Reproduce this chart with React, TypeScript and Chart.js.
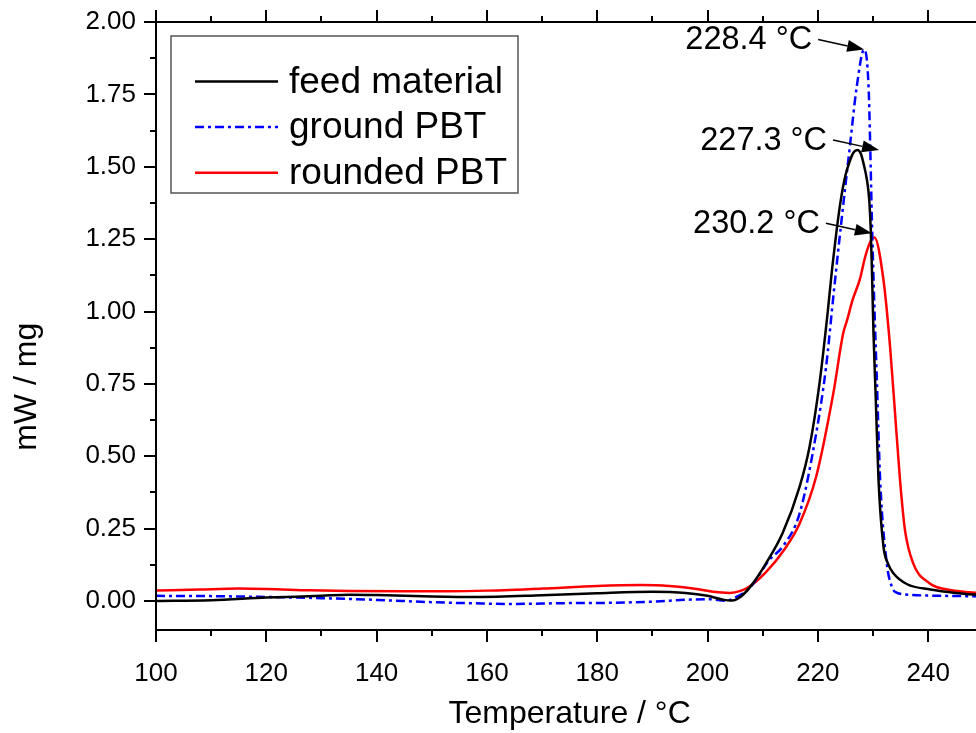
import React, { useEffect, useRef } from 'react';
import { Chart, registerables } from 'chart.js';

Chart.register(...registerables);

const FONT = '"Liberation Sans", Arial, Helvetica, sans-serif';

// ---- data (°C, mW/mg) ----
const feedT = [100, 110, 120, 130, 135, 140, 150, 158, 170, 180, 190, 196, 200, 203, 204.5, 206, 208, 210.6, 213.6, 216.7, 218.5, 220.3, 221.8, 222.6, 223.4, 224.2, 225.0, 225.8, 226.5, 227.2, 227.8, 228.3, 228.9, 229.3, 229.6, 229.85, 230.1, 230.5, 231.0, 231.9, 232.7, 233.7, 236.2, 240.4, 245, 250];
const feedV = [0.0, 0.003, 0.012, 0.018, 0.022, 0.021, 0.016, 0.014, 0.02, 0.027, 0.032, 0.028, 0.018, 0.004, 0.002, 0.015, 0.055, 0.13, 0.234, 0.395, 0.533, 0.752, 1.0, 1.15, 1.28, 1.39, 1.47, 1.52, 1.55, 1.558, 1.545, 1.51, 1.455, 1.39, 1.28, 1.11, 0.92, 0.7, 0.418, 0.188, 0.13, 0.096, 0.058, 0.04, 0.028, 0.02];

const groundT = [100, 110, 120, 130, 140, 150, 158, 164, 175, 183, 190, 197, 200.4, 203.3, 205, 207.6, 211.2, 213.7, 216.7, 219.7, 221.5, 222.8, 224.3, 225.8, 227.05, 228.4, 229.2, 229.5, 229.8, 230.2, 230.7, 231.3, 232.5, 233.4, 234.0, 237.2, 243, 250];
const groundV = [0.018, 0.017, 0.014, 0.01, 0.004, -0.004, -0.008, -0.01, -0.007, -0.006, -0.002, 0.005, 0.006, 0.001, 0.012, 0.044, 0.142, 0.19, 0.303, 0.579, 0.81, 1.05, 1.316, 1.569, 1.776, 1.905, 1.776, 1.569, 1.316, 1.05, 0.763, 0.418, 0.13, 0.05, 0.032, 0.021, 0.018, 0.016];

const roundedT = [100, 108, 115, 120, 128, 135, 145, 153, 160, 170, 180, 188, 193, 198.6, 201, 204, 206, 207.6, 210.6, 214, 216.7, 219.7, 222.8, 224.6, 225.3, 226.3, 227.6, 228.6, 229.5, 230.25, 231.9, 233.1, 234.0, 234.9, 235.8, 237.3, 240.3, 244, 250];
const roundedV = [0.036, 0.04, 0.043, 0.042, 0.037, 0.035, 0.034, 0.034, 0.036, 0.043, 0.052, 0.055, 0.052, 0.04, 0.032, 0.028, 0.035, 0.05, 0.1, 0.18, 0.268, 0.43, 0.717, 0.925, 0.97, 1.04, 1.11, 1.19, 1.24, 1.256, 1.109, 0.878, 0.648, 0.418, 0.245, 0.13, 0.061, 0.038, 0.027];

const seriesNames = ['feed material', 'ground PBT', 'rounded PBT'];

// peak annotations: label and arrow tip (°C, mW/mg)
const peakLabels = ['228.4 °C', '227.3 °C', '230.2 °C'];
const peakTipT = [228.4, 231.1, 229.8];
const peakTipV = [1.905, 1.558, 1.27];

// axis ranges, titles and tick values
const xMin = 100;
const xMax = 250;
const yMin = -0.1;
const yMax = 2.0;
const xTitle = 'Temperature / °C';
const yTitle = 'mW / mg';
const xTickValues = [100, 110, 120, 130, 140, 150, 160, 170, 180, 190, 200, 210, 220, 230, 240, 250];
const yTickValues = [0, 0.125, 0.25, 0.375, 0.5, 0.625, 0.75, 0.875, 1.0, 1.125, 1.25, 1.375, 1.5, 1.625, 1.75, 1.875, 2.0];

const toPoints = (t: number[], v: number[]) => t.map((x, i) => ({ x, y: v[i] }));
const isMult = (v: number, step: number) => Math.abs(v / step - Math.round(v / step)) < 1e-6;

const zeroPad = (s: any) => {
  s.paddingTop = 0;
  s.paddingBottom = 0;
  s.paddingLeft = 0;
  s.paddingRight = 0;
};

const frameTicksPlugin = {
  id: 'frameTicks',
  afterDraw(chart: any) {
    const { ctx, chartArea: a } = chart;
    const xs = chart.scales.x;
    const ys = chart.scales.y;
    ctx.save();
    ctx.strokeStyle = '#000';
    ctx.lineWidth = 2;
    ctx.beginPath();
    ctx.moveTo(a.left, a.top - 1);
    ctx.lineTo(a.left, a.bottom + 1);
    ctx.moveTo(a.left - 1, a.bottom);
    ctx.lineTo(a.right + 2, a.bottom);
    ctx.moveTo(a.left - 1, a.top);
    ctx.lineTo(a.right + 2, a.top);
    xs.ticks.forEach((t: any) => {
      const v = t.value;
      const len = isMult(v, 20) ? 12 : 6;
      const px = Math.round(xs.getPixelForValue(v));
      ctx.moveTo(px, a.bottom);
      ctx.lineTo(px, a.bottom + len);
      ctx.moveTo(px, a.top);
      ctx.lineTo(px, a.top - len);
    });
    ys.ticks.forEach((t: any) => {
      const v = t.value;
      const len = isMult(v, 0.25) ? 12 : 6;
      const py = Math.round(ys.getPixelForValue(v));
      ctx.moveTo(a.left, py);
      ctx.lineTo(a.left - len, py);
    });
    ctx.stroke();

    // rotated y-axis title (sits a little below the centre of the axis)
    ctx.save();
    ctx.translate(27, a.top + (a.bottom - a.top) * 0.6);
    ctx.rotate(-Math.PI / 2);
    ctx.fillStyle = '#000';
    ctx.font = `32px ${FONT}`;
    ctx.textAlign = 'center';
    ctx.textBaseline = 'middle';
    ctx.fillText(yTitle, 0, 0);
    ctx.restore();

    ctx.restore();
  },
};

const legendPlugin = {
  id: 'boxLegend',
  afterDraw(chart: any) {
    const { ctx, chartArea: a } = chart;
    const bx = a.left + 15;
    const by = a.top + 14;
    const bw = 347;
    const bh = 157;
    ctx.save();
    ctx.fillStyle = '#fff';
    ctx.fillRect(bx, by, bw, bh);
    ctx.strokeStyle = '#555';
    ctx.lineWidth = 1.5;
    ctx.strokeRect(bx, by, bw, bh);
    chart.data.datasets.forEach((ds: any, i: number) => {
      const y = by + 45.5 + i * 45.6;
      ctx.beginPath();
      ctx.strokeStyle = ds.borderColor;
      ctx.lineWidth = ds.borderWidth;
      ctx.setLineDash(ds.borderDash || []);
      ctx.moveTo(bx + 24, y);
      ctx.lineTo(bx + 107, y);
      ctx.stroke();
      ctx.setLineDash([]);
      ctx.fillStyle = '#000';
      ctx.font = `37px ${FONT}`;
      ctx.textAlign = 'left';
      ctx.textBaseline = 'middle';
      ctx.fillText(ds.label, bx + 118, y + 1);
    });
    ctx.restore();
  },
};

const peakPlugin = {
  id: 'peakArrows',
  afterDatasetsDraw(chart: any) {
    const { ctx } = chart;
    const xs = chart.scales.x;
    const ys = chart.scales.y;
    ctx.save();
    peakLabels.forEach((label, i) => {
      const tx = xs.getPixelForValue(peakTipT[i]);
      const ty = ys.getPixelForValue(peakTipV[i]);
      const sx = tx - 46;
      const sy = ty - 10;
      const ang = Math.atan2(ty - sy, tx - sx);
      const hl = 17;
      const hw = 6;
      const bxp = tx - hl * Math.cos(ang);
      const byp = ty - hl * Math.sin(ang);
      ctx.strokeStyle = '#000';
      ctx.fillStyle = '#000';
      ctx.lineWidth = 1.5;
      ctx.beginPath();
      ctx.moveTo(sx, sy);
      ctx.lineTo(bxp, byp);
      ctx.stroke();
      ctx.beginPath();
      ctx.moveTo(tx, ty);
      ctx.lineTo(bxp + hw * Math.sin(ang), byp - hw * Math.cos(ang));
      ctx.lineTo(bxp - hw * Math.sin(ang), byp + hw * Math.cos(ang));
      ctx.closePath();
      ctx.fill();
      ctx.font = `32.5px ${FONT}`;
      ctx.textAlign = 'right';
      ctx.textBaseline = 'middle';
      ctx.fillText(label, sx - 6, sy + 1);
    });
    ctx.restore();
  },
};

export default function App() {
  const ref = useRef<HTMLCanvasElement | null>(null);

  useEffect(() => {
    document.body.style.margin = '0';
    const canvas = ref.current;
    if (!canvas) return;
    const chart = new Chart(canvas, {
      type: 'line',
      data: {
        datasets: [
          {
            label: seriesNames[0],
            data: toPoints(feedT, feedV),
            borderColor: '#000000',
            borderWidth: 2.5,
            pointRadius: 0,
            cubicInterpolationMode: 'monotone',
            fill: false,
          },
          {
            label: seriesNames[1],
            data: toPoints(groundT, groundV),
            borderColor: '#0000ff',
            borderWidth: 2.5,
            borderDash: [9, 4, 3, 4],
            pointRadius: 0,
            cubicInterpolationMode: 'monotone',
            fill: false,
          },
          {
            label: seriesNames[2],
            data: toPoints(roundedT, roundedV),
            borderColor: '#ff0000',
            borderWidth: 2.5,
            pointRadius: 0,
            cubicInterpolationMode: 'monotone',
            fill: false,
          },
        ],
      },
      options: {
        responsive: false,
        animation: false,
        devicePixelRatio: 1,
        layout: { padding: { left: 0, top: 0, right: 6.7, bottom: 0 } },
        plugins: {
          legend: { display: false },
          tooltip: { enabled: false },
        },
        scales: {
          x: {
            type: 'linear',
            position: 'bottom',
            min: xMin,
            max: xMax,
            grid: { display: false, drawTicks: false },
            border: { display: false },
            ticks: {
              autoSkip: false,
              maxRotation: 0,
              padding: 28,
              color: '#000',
              font: { family: FONT, size: 26 },
              callback: (v: any) => (isMult(Number(v), 20) ? String(v) : ''),
            },
            title: {
              display: true,
              text: xTitle,
              color: '#000',
              font: { family: FONT, size: 32 },
              padding: { top: 0, bottom: 0 },
            },
            afterBuildTicks: (s: any) => {
              s.ticks = xTickValues.map((value) => ({ value }));
            },
            afterFit: (s: any) => {
              s.height = 103;
              zeroPad(s);
            },
          },
          x2: {
            type: 'linear',
            position: 'top',
            min: xMin,
            max: xMax,
            grid: { display: false, drawTicks: false },
            border: { display: false },
            ticks: { display: false },
            afterFit: (s: any) => {
              s.height = 22;
              zeroPad(s);
            },
          },
          y: {
            type: 'linear',
            position: 'left',
            min: yMin,
            max: yMax,
            grid: { display: false, drawTicks: false },
            border: { display: false },
            ticks: {
              autoSkip: false,
              padding: 20,
              color: '#000',
              font: { family: FONT, size: 26 },
              callback: (v: any) => (isMult(Number(v), 0.25) ? Number(v).toFixed(2) : ''),
            },
            title: { display: false },
            afterBuildTicks: (s: any) => {
              s.ticks = yTickValues.map((value) => ({ value }));
            },
            afterFit: (s: any) => {
              s.width = 156;
              zeroPad(s);
            },
          },
        },
      } as any,
      plugins: [frameTicksPlugin, legendPlugin, peakPlugin],
    });
    return () => chart.destroy();
  }, []);

  return (
    <div style={{ width: 976, height: 733, overflow: 'hidden', position: 'relative', background: '#fff' }}>
      <canvas ref={ref} width={990} height={733} style={{ display: 'block', width: 990, height: 733 }} />
    </div>
  );
}
